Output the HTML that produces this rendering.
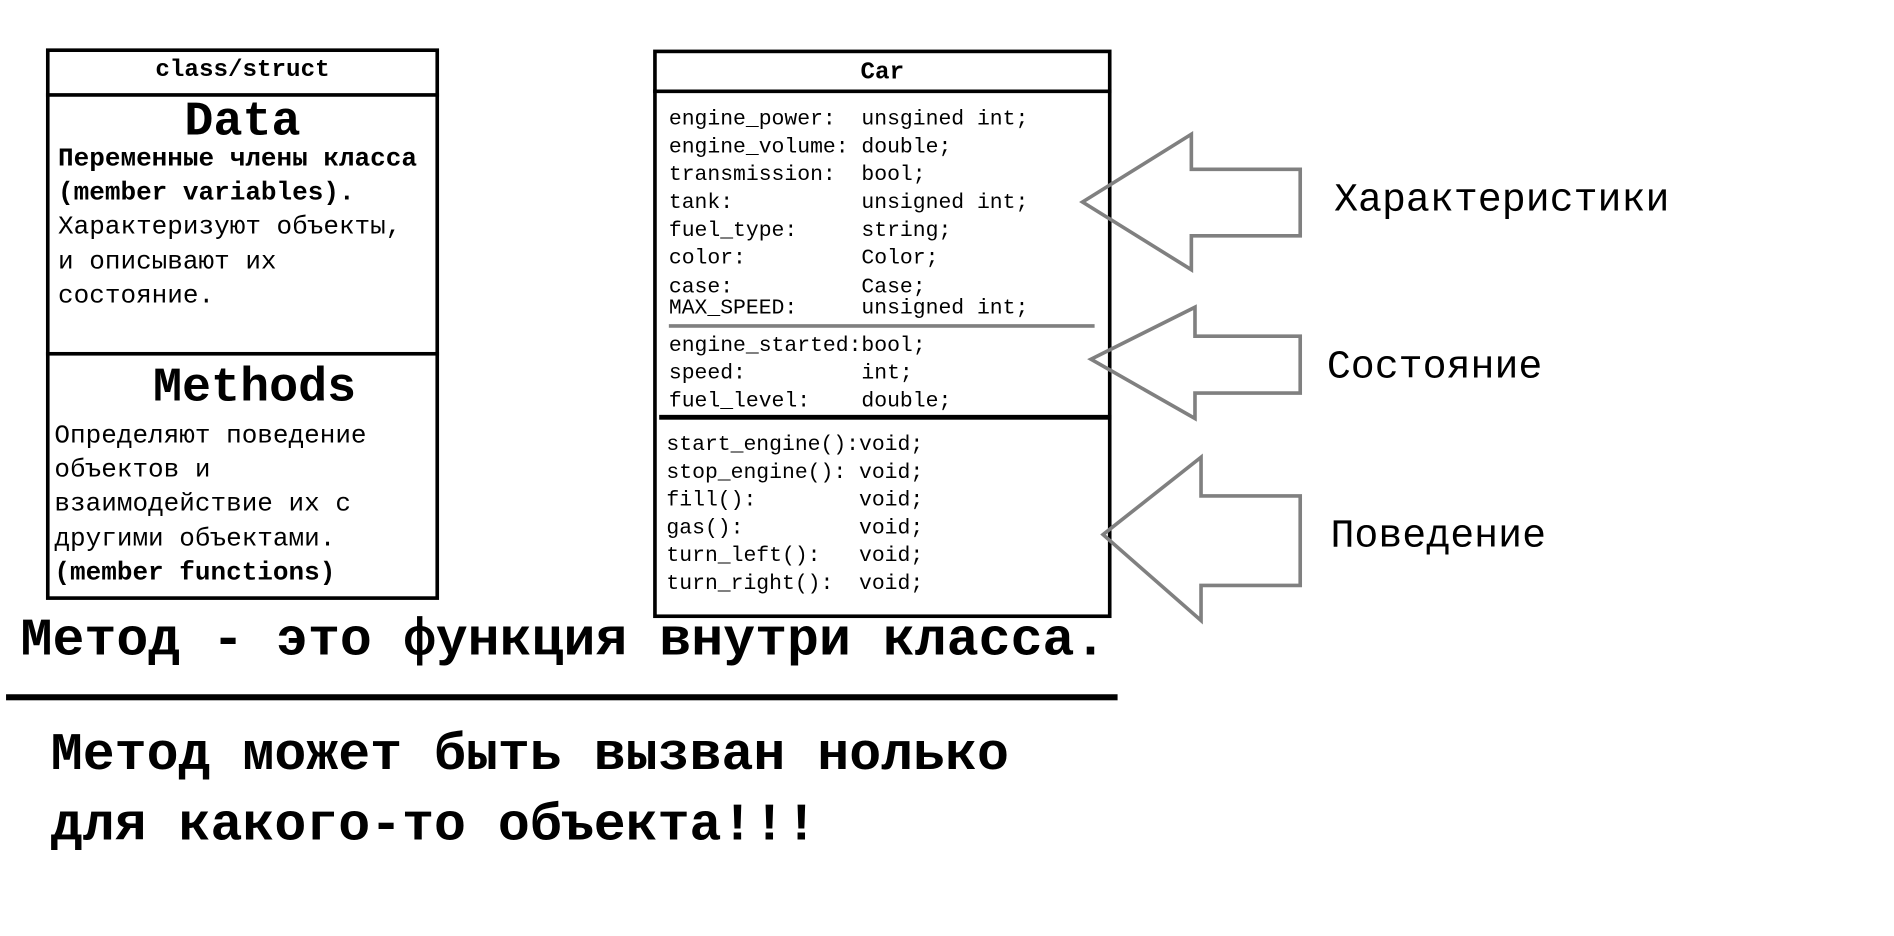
<!DOCTYPE html>
<html><head><meta charset="utf-8"><style>
html,body{margin:0;padding:0;background:#fff;width:1894px;height:936px;overflow:hidden}
#w{position:absolute;left:0;top:0;width:1566px;height:774px;transform:scale(1.2095);transform-origin:0 0}
.t{position:absolute;font-family:"Liberation Mono","DejaVu Sans Mono",monospace;color:#000;white-space:pre;line-height:1}
.box{position:absolute;border:3px solid #000;box-sizing:border-box}
.hl{position:absolute;background:#000}
</style></head><body><div id="w">
<div class="box" style="left:38px;top:40px;width:325px;height:456px"></div>
<div class="hl" style="left:38px;top:77px;width:325px;height:3px"></div>
<div class="hl" style="left:38px;top:291px;width:325px;height:3px"></div>
<div class="t" style="left:38px;width:325px;text-align:center;top:49px;font-size:20px;font-weight:bold">class/struct</div>
<div class="t" style="left:38px;width:325px;text-align:center;top:82px;font-size:40px;font-weight:bold">Data</div>
<div class="t" style="left:48px;top:118px;font-size:21.5px;line-height:28.2px"><b>Переменные члены класса
(member variables).</b>
Характеризуют объекты,
и описывают их
состояние.</div>
<div class="t" style="left:48px;width:325px;text-align:center;top:302px;font-size:40px;font-weight:bold">Methods</div>
<div class="t" style="left:45px;top:347px;font-size:21.5px;line-height:28.2px">Определяют поведение
объектов и
взаимодействие их с
другими объектами.
<b>(member functions)</b></div>

<div class="box" style="left:540px;top:41px;width:379px;height:470px"></div>
<div class="hl" style="left:540px;top:74px;width:379px;height:3px"></div>
<div class="hl" style="left:545px;top:343px;width:374px;height:4px"></div>
<div class="hl" style="left:553px;top:268px;width:352px;height:3px;background:#808080"></div>
<div class="t" style="left:540px;width:379px;text-align:center;top:51px;font-size:20px;font-weight:bold">Car</div>
<div class="t" style="left:553px;top:88px;font-size:17.7px;line-height:23.1px">engine_power:  unsgined int;
engine_volume: double;
transmission:  bool;
tank:          unsigned int;
fuel_type:     string;
color:         Color;
case:          Case;</div>
<div class="t" style="left:553px;top:247px;font-size:17.7px">MAX_SPEED:     unsigned int;</div>
<div class="t" style="left:553px;top:275px;font-size:17.7px;line-height:23.1px">engine_started:bool;
speed:         int;
fuel_level:    double;</div>
<div class="t" style="left:551px;top:357px;font-size:17.7px;line-height:23.1px">start_engine():void;
stop_engine(): void;
fill():        void;
gas():         void;
turn_left():   void;
turn_right():  void;</div>

<svg style="position:absolute;left:0;top:0" width="1566" height="774">
<g fill="none" stroke="#808080" stroke-width="3">
<polygon points="895,167 985,111 985,140 1075,140 1075,195 985,195 985,223"/>
<polygon points="902,297 988,254 988,278 1075,278 1075,325 988,325 988,346"/>
<polygon points="912,442 993,378 993,410 1075,410 1075,484 993,484 993,513"/>
</g>
<rect x="5" y="574" width="919" height="5" fill="#000"/>
</svg>
<div class="t" style="left:1103px;top:149px;font-size:33px">Характеристики</div>
<div class="t" style="left:1097px;top:287px;font-size:33px">Состояние</div>
<div class="t" style="left:1100px;top:427px;font-size:33px">Поведение</div>
<div class="t" style="left:17px;top:508px;font-size:44px;font-weight:bold">Метод - это функция внутри класса.</div>
<div class="t" style="left:42px;top:596px;font-size:44px;font-weight:bold;line-height:58px">Метод может быть вызван нолько
для какого-то объекта!!!</div>
</div></body></html>
